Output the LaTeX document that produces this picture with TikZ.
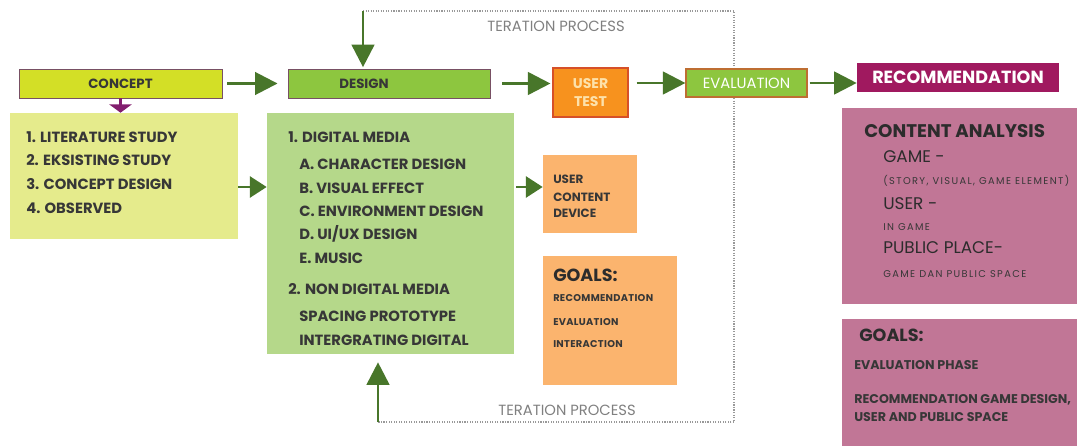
\documentclass[tikz,border=0pt]{standalone}
\usepackage{fontspec}
\setmainfont{Poppins}
\usetikzlibrary{arrows.meta}

\definecolor{conceptlime}{RGB}{211,223,38}
\definecolor{designgreen}{RGB}{141,198,63}
\definecolor{studyyellow}{RGB}{229,235,140}
\definecolor{mediagreen}{RGB}{181,216,138}
\definecolor{flowgreen}{RGB}{72,118,42}
\definecolor{testorange}{RGB}{247,146,30}
\definecolor{testedge}{RGB}{214,80,40}
\definecolor{testtext}{RGB}{253,225,170}
\definecolor{softorange}{RGB}{251,180,110}
\definecolor{recmagenta}{RGB}{160,25,95}
\definecolor{analysispink}{RGB}{193,118,150}
\definecolor{baredge}{RGB}{120,80,100}
\definecolor{evaledge}{RGB}{190,110,50}
\definecolor{conceptpurple}{RGB}{130,30,110}
\definecolor{ink}{RGB}{55,55,55}

\begin{document}
\begin{tikzpicture}[
  x=0.025cm, y=-0.025cm,
  bar/.style={draw=baredge,line width=0.6pt,minimum height=0.725cm,inner sep=0pt},
  panel/.style={inner sep=0pt},
  item/.style={anchor=west,inner sep=0pt,text=ink,font=\fontsize{10.5}{12}\selectfont\bfseries},
  small/.style={anchor=west,inner sep=0pt,text=ink,font=\fontsize{8.5}{10}\selectfont\bfseries},
  tiny/.style={anchor=west,inner sep=0pt,text=ink,font=\fontsize{7}{8}\selectfont\bfseries\addfontfeatures{LetterSpace=3}},
  goal/.style={anchor=west,inner sep=0pt,text=ink!80!black,font=\fontsize{12.5}{14}\selectfont\bfseries},
  topic/.style={anchor=west,inner sep=0pt,text=ink!80!black,font=\fontsize{12}{14}\selectfont},
  note/.style={anchor=west,inner sep=0pt,text=ink,font=\fontsize{7}{8}\selectfont\addfontfeatures{LetterSpace=14}},
  plain/.style={anchor=west,inner sep=0pt,text=ink,font=\fontsize{9}{10}\selectfont\bfseries},
  flow/.style={-{Triangle[length=16pt,width=16pt]},line width=2pt,draw=flowgreen},
  iter/.style={densely dotted,line width=0.8pt,draw=gray!80},
  iterlabel/.style={anchor=west,inner sep=0pt,text=gray,font=\fontsize{10.5}{12}\selectfont}
]
  \fill[white] (0,0) rectangle (1077,446);
  \useasboundingbox (0,0) rectangle (1077,446);

  % iteration loop, behind the boxes
  \coordinate (looptl) at (363,11);
  \coordinate (looptr) at (734,11);
  \coordinate (loopbr) at (734,422);
  \coordinate (loopbl) at (378,422);
  \draw[iter] (looptl) -- (looptr) -- (loopbr) -- (loopbl);
  \node[iterlabel] (itertop) at (487,26) {TERATION PROCESS};
  \node[iterlabel] (iterbot) at (498,410) {TERATION PROCESS};

  % top row of steps
  \node[bar,fill=conceptlime,minimum width=5.075cm,font=\fontsize{9.5}{11}\selectfont\bfseries,text=ink] (concept) at (120.5,83.5) {CONCEPT};
  \node[bar,fill=designgreen,minimum width=5.05cm] (design) at (389,83.5) {};
  \node[inner sep=0pt,text=ink,font=\fontsize{9.5}{11}\selectfont\bfseries] (designlbl) at (364,84) {DESIGN};
  \node[draw=testedge,line width=0.8pt,fill=testorange,minimum width=1.875cm,minimum height=1.225cm,inner sep=0pt,
    align=center,text=testtext,font=\fontsize{10}{13}\selectfont\bfseries] (usertest) at (590.5,92.5) {USER\\TEST};
  \node[draw=evaledge,line width=0.8pt,fill=designgreen,minimum width=3.025cm,minimum height=0.7cm,inner sep=0pt,
    text=white,font=\fontsize{10.5}{12}\selectfont] (evaluation) at (746.5,83) {EVALUATION};
  \node[fill=recmagenta,minimum width=5.05cm,minimum height=0.725cm,inner sep=0pt,
    text=white,font=\fontsize{12.5}{14}\selectfont\bfseries] (recom) at (958,77.5) {RECOMMENDATION};

  % panels
  \node[panel,fill=studyyellow,minimum width=5.7cm,minimum height=3.15cm] (study) at (124,176) {};
  \node[panel,fill=mediagreen,minimum width=6.175cm,minimum height=6.025cm] (media) at (390.5,233.5) {};
  \node[panel,fill=softorange,minimum width=2.35cm,minimum height=1.95cm] (device) at (590,194) {};
  \node[panel,fill=softorange,minimum width=3.35cm,minimum height=3.225cm] (testgoals) at (610,320.5) {};
  \node[panel,fill=analysispink,minimum width=5.875cm,minimum height=4.9cm] (analysis) at (959.5,206) {};
  \node[panel,fill=analysispink,minimum width=5.875cm,minimum height=3.175cm] (recgoals) at (959.5,382.5) {};

  % concept study
  \node[item] (st1) at (26,137) {1. LITERATURE STUDY};
  \node[item] (st2) at (26,160) {2. EKSISTING STUDY};
  \node[item] (st3) at (26,184) {3. CONCEPT DESIGN};
  \node[item] (st4) at (26,208) {4. OBSERVED};

  % design media
  \node[item] (md1) at (288,137) {1. DIGITAL MEDIA};
  \node[item] (mda) at (299,164) {A. CHARACTER DESIGN};
  \node[item] (mdb) at (299,188) {B. VISUAL EFFECT};
  \node[item] (mdc) at (299,211) {C. ENVIRONMENT DESIGN};
  \node[item] (mdd) at (299,234) {D. UI/UX DESIGN};
  \node[item] (mde) at (299,258) {E. MUSIC};
  \node[item] (md2) at (288,289) {2. NON DIGITAL MEDIA};
  \node[item] (mdf) at (299,316) {SPACING PROTOTYPE};
  \node[item] (mdg) at (299,340) {INTERGRATING DIGITAL};

  % user test
  \node[small] (dv1) at (553,179) {USER};
  \node[small] (dv2) at (553,197) {CONTENT};
  \node[small] (dv3) at (553,213) {DEVICE};
  \node[goal] (tg0) at (553,275) {GOALS:};
  \node[tiny] (tg1) at (553,298) {RECOMMENDATION};
  \node[tiny] (tg2) at (553,322) {EVALUATION};
  \node[tiny] (tg3) at (553,344) {INTERACTION};

  % recommendation
  \node[goal,font=\fontsize{13}{15}\selectfont\bfseries] (an0) at (864,131) {CONTENT ANALYSIS};
  \node[topic] (an1) at (883,157) {GAME -};
  \node[note] (an2) at (883,181) {(STORY, VISUAL, GAME ELEMENT)};
  \node[topic] (an3) at (883,204) {USER -};
  \node[note] (an4) at (883,227) {IN GAME};
  \node[topic] (an5) at (883,248) {PUBLIC PLACE-};
  \node[note] (an6) at (883,274) {GAME DAN PUBLIC SPACE};
  \node[goal] (rg0) at (859,335) {GOALS:};
  \node[plain] (rg1) at (854,365) {EVALUATION PHASE};
  \node[plain] (rg2) at (854,400) {RECOMMENDATION GAME DESIGN,};
  \node[plain] (rg3) at (854,417) {USER AND PUBLIC SPACE};

  % loop arrows back into design
  \draw[flow] (looptl) -- ([yshift=1pt]looptl |- design.north);
  \draw[flow,shorten >=0.2cm] (loopbl) -- (loopbl |- media.south);

  % arrows between steps
  \draw[-{Triangle[length=6pt,width=16pt]},line width=2pt,draw=conceptpurple] (concept.south) -- (concept.south |- study.north);
  \draw[flow,shorten <=0.12cm,shorten >=0.25cm] (concept.east) -- (design.west);
  \draw[flow,shorten <=0.3cm,shorten >=0.05cm] (design.east) -- (design.east -| usertest.west);
  \draw[flow,shorten <=0.2cm] (evaluation.west -| usertest.east) -- (evaluation.west);
  \draw[flow,shorten <=0.05cm] (evaluation.east) -- (evaluation.east -| recom.west);
  \coordinate (studyout) at (238,187);
  \coordinate (mediaout) at (516,187);
  \draw[flow,line width=1.8pt,-{Triangle[length=12pt,width=15pt]}] (studyout) -- (studyout -| media.west);
  \draw[flow,line width=1.8pt,-{Triangle[length=12pt,width=15pt]}] (mediaout) -- (mediaout -| device.west);
\end{tikzpicture}
\end{document}
